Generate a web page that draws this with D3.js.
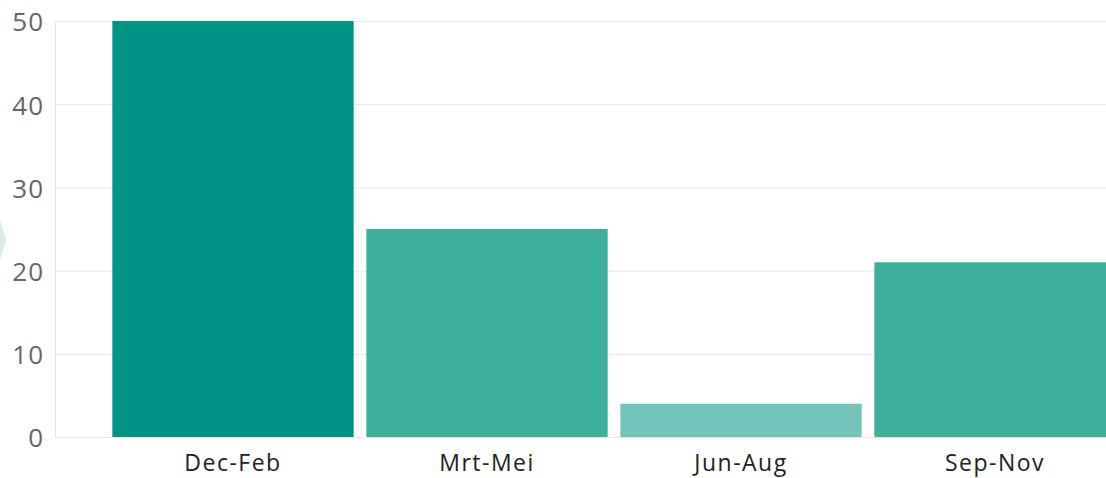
<!DOCTYPE html>
<html>
<head>
<meta charset="utf-8">
<script src="https://cdn.jsdelivr.net/npm/d3@7"></script>
<style>
  body { margin: 0; background: #fff; }
  .grid line { stroke: #e6e6e6; }
  .axis-y text { font-family: "Open Sans", sans-serif; font-size: 26px; fill: #666; letter-spacing: 1px; }
  .axis-x text { font-family: "Open Sans", sans-serif; font-size: 23px; fill: #222; letter-spacing: 1.5px; }
</style>
</head>
<body>
<div id="chart"></div>
<script>
const seasons = ["Dec-Feb", "Mrt-Mei", "Jun-Aug", "Sep-Nov"];
const counts = [50, 25, 4, 21];
const yTicks = [0, 10, 20, 30, 40, 50];

const svgWidth = 1106;
const svgHeight = 478;
const plotLeft = 55, plotRight = 1106, plotTop = 21, plotBottom = 437;

const svg = d3.select("#chart")
    .append("svg")
    .attr("width", svgWidth)
    .attr("height", svgHeight);

// decorative shape peeking in at the left edge
svg.append("polygon")
    .attr("points", "-20,220 0,220 6,240 0,260 -20,260")
    .attr("fill", "#d6eee4");

const data = seasons.map((s, i) => ({ season: s, count: counts[i] }));

const xScale = d3.scaleBand()
    .domain(seasons)
    .range([106, 1122])
    .paddingInner(0.05)
    .paddingOuter(0.025);

const yScale = d3.scaleLinear()
    .domain([0, 50])
    .range([plotBottom, plotTop]);

const color = d3.scaleThreshold()
    .domain([10, 30])
    .range(["#72c3b9", "#3daf9c", "#009485"]);

// gridlines
svg.append("g")
    .attr("class", "grid")
    .selectAll("line")
    .data(yTicks)
    .enter()
    .append("line")
    .attr("x1", plotLeft)
    .attr("x2", plotRight)
    .attr("y1", d => yScale(d) + 0.5)
    .attr("y2", d => yScale(d) + 0.5);

svg.append("line")
    .attr("x1", plotLeft + 0.5)
    .attr("x2", plotLeft + 0.5)
    .attr("y1", plotTop)
    .attr("y2", plotBottom)
    .attr("stroke", "#e6e6e6");

svg.selectAll(".bar")
    .data(data)
    .enter()
    .append("rect")
    .attr("class", "bar")
    .attr("x", d => xScale(d.season))
    .attr("y", d => yScale(d.count))
    .attr("width", xScale.bandwidth())
    .attr("height", d => plotBottom - yScale(d.count))
    .attr("fill", d => color(d.count));

svg.append("g")
    .attr("class", "axis-y")
    .attr("transform", "translate(44,0)")
    .call(d3.axisLeft(yScale).tickValues(yTicks).tickSize(0).tickPadding(0))
    .call(g => g.select(".domain").remove())
    .selectAll("text")
    .attr("dy", "0.38em");

svg.append("g")
    .attr("class", "axis-x")
    .attr("transform", "translate(0," + plotBottom + ")")
    .call(d3.axisBottom(xScale).tickSize(0).tickPadding(18))
    .call(g => g.select(".domain").remove())
    .selectAll("text")
    .attr("dy", "0.71em");
</script>
</body>
</html>
